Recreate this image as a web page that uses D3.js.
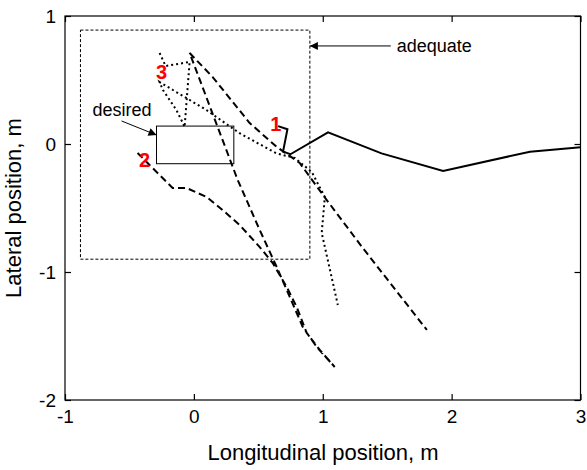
<!DOCTYPE html>
<html><head><meta charset="utf-8">
<script src="https://cdn.jsdelivr.net/npm/d3@7"></script>
<style>body{margin:0;background:#fff}svg{display:block}text{font-family:"Liberation Sans",Arial,sans-serif}</style>
</head><body><svg id="c" width="587" height="470"></svg>
<script>
const xTicks = [-1, 0, 1, 2, 3];
const yTicks = [-2, -1, 0, 1];
const xLabel = "Longitudinal position, m";
const yLabel = "Lateral position, m";
// trajectory 1 (solid)
const traj1 = [[0.653,0.14],[0.726,0.115],[0.692,-0.06],[0.749,-0.08],[1.041,0.091],[1.456,-0.073],[1.934,-0.211],[2.608,-0.06],[3.0,-0.026]];
// trajectory 2 (dashed)
const traj2 = [[-0.437,-0.07],[-0.165,-0.344],[-0.056,-0.344],[0.099,-0.414],[0.223,-0.516],[0.355,-0.633],[0.511,-0.805],[0.612,-0.93],[0.72,-1.117],[0.798,-1.273],[0.876,-1.477],[0.977,-1.609],[1.093,-1.742],[0.953,-1.586],[0.845,-1.43],[0.744,-1.195],[0.643,-0.961],[0.511,-0.672],[0.34,-0.281],[-0.033,0.711],[0.146,0.523],[0.433,0.164],[0.643,-0.023],[0.821,-0.148],[1.031,-0.438],[1.311,-0.813],[1.808,-1.453]];
// trajectory 3 (dotted)
const traj3 = [[-0.266,0.711],[-0.219,0.609],[-0.033,0.641],[-0.072,0.133],[-0.097,0.1875],[-0.136,0.266],[-0.188,0.344],[-0.24,0.422],[-0.266,0.484],[-0.163,0.422],[0.097,0.266],[0.355,0.084],[0.64,-0.073],[0.783,-0.109],[0.915,-0.219],[1.016,-0.414],[0.992,-0.695],[1.117,-1.258]];
const adequateBox = [-0.88, 0.9, -0.9, 0.89]; // x0,x1,y0,y1
const desiredBox = [-0.29, 0.31, -0.154, 0.14];
const startLabels = [{t:"1",x:0.636,y:0.156},{t:"2",x:-0.382,y:-0.125},{t:"3",x:-0.25,y:0.5625}];
const notes = [{t:"desired",x:-0.786,y:0.266,ax:-0.561,ay:0.18,bx:-0.29,by:0.07},{t:"adequate",x:1.574,y:0.766,ax:1.528,ay:0.766,bx:0.9,by:0.766}];

const svg = d3.select("#c");
const M = {l:65, t:16, r:580.5, b:400};
const x = d3.scaleLinear().domain([-1,3]).range([M.l, M.r]);
const y = d3.scaleLinear().domain([-2,1]).range([M.b, M.t]);
const fmt = d => String(d);

svg.append("defs").append("marker").attr("id","ah").attr("viewBox","0 0 10 10")
  .attr("refX",10).attr("refY",5).attr("markerWidth",10).attr("markerHeight",8)
  .attr("markerUnits","userSpaceOnUse").attr("orient","auto")
  .append("path").attr("d","M0,0L10,5L0,10z").attr("fill","#000");

const g = svg.append("g");
g.append("rect").attr("x",M.l).attr("y",M.t).attr("width",M.r-M.l).attr("height",M.b-M.t)
  .attr("fill","none").attr("stroke","#000").attr("stroke-width",1.2);
const axB = d3.axisBottom(x).tickValues(xTicks).tickSize(-6).tickPadding(10).tickFormat(fmt);
const axT = d3.axisTop(x).tickValues(xTicks).tickSize(-6).tickFormat("");
const axL = d3.axisLeft(y).tickValues(yTicks).tickSize(-6).tickPadding(9).tickFormat(fmt);
const axR = d3.axisRight(y).tickValues(yTicks).tickSize(-6).tickFormat("");
function style(sel){sel.select(".domain").remove();sel.selectAll("line").attr("stroke","#000").attr("stroke-width",1.2);
  sel.selectAll("text").attr("font-size",19).attr("fill","#000").attr("font-family","Liberation Sans, Arial, sans-serif");}
g.append("g").attr("transform",`translate(0,${M.b})`).call(axB).call(style);
g.append("g").attr("transform",`translate(0,${M.t})`).call(axT).call(style);
g.append("g").attr("transform",`translate(${M.l},0)`).call(axL).call(style);
g.append("g").attr("transform",`translate(${M.r},0)`).call(axR).call(style);

g.append("rect").attr("x",x(adequateBox[0])).attr("y",y(adequateBox[3]))
  .attr("width",x(adequateBox[1])-x(adequateBox[0])).attr("height",y(adequateBox[2])-y(adequateBox[3]))
  .attr("fill","none").attr("stroke","#000").attr("stroke-width",1).attr("stroke-dasharray","3,2");
g.append("rect").attr("x",x(desiredBox[0])).attr("y",y(desiredBox[3]))
  .attr("width",x(desiredBox[1])-x(desiredBox[0])).attr("height",y(desiredBox[2])-y(desiredBox[3]))
  .attr("fill","none").attr("stroke","#000").attr("stroke-width",1);

const line = d3.line().x(d=>x(d[0])).y(d=>y(d[1]));
g.append("path").attr("d",line(traj3)).attr("fill","none").attr("stroke","#000").attr("stroke-width",2)
  .attr("stroke-dasharray","2,3");
g.append("path").attr("d",line(traj2)).attr("fill","none").attr("stroke","#000").attr("stroke-width",2)
  .attr("stroke-dasharray","7,4");
g.append("path").attr("d",line(traj1)).attr("fill","none").attr("stroke","#000").attr("stroke-width",2);

notes.forEach(n=>{
  g.append("line").attr("x1",x(n.ax)).attr("y1",y(n.ay)).attr("x2",x(n.bx)).attr("y2",y(n.by))
    .attr("stroke","#000").attr("stroke-width",1).attr("marker-end","url(#ah)");
  g.append("text").attr("x",x(n.x)).attr("y",y(n.y)).attr("dy","0.35em").attr("font-size",18).text(n.t);
});
startLabels.forEach(s=>{
  g.append("text").attr("x",x(s.x)).attr("y",y(s.y)).attr("dy","0.36em").attr("text-anchor","middle")
    .attr("font-size",20).attr("font-weight","bold").attr("fill","#ff0000").text(s.t);
});

svg.append("text").attr("x",323).attr("y",460).attr("text-anchor","middle").attr("font-size",22).text(xLabel);
svg.append("text").attr("transform",`translate(21,208) rotate(-90)`).attr("text-anchor","middle").attr("font-size",22).text(yLabel);
</script></body></html>
